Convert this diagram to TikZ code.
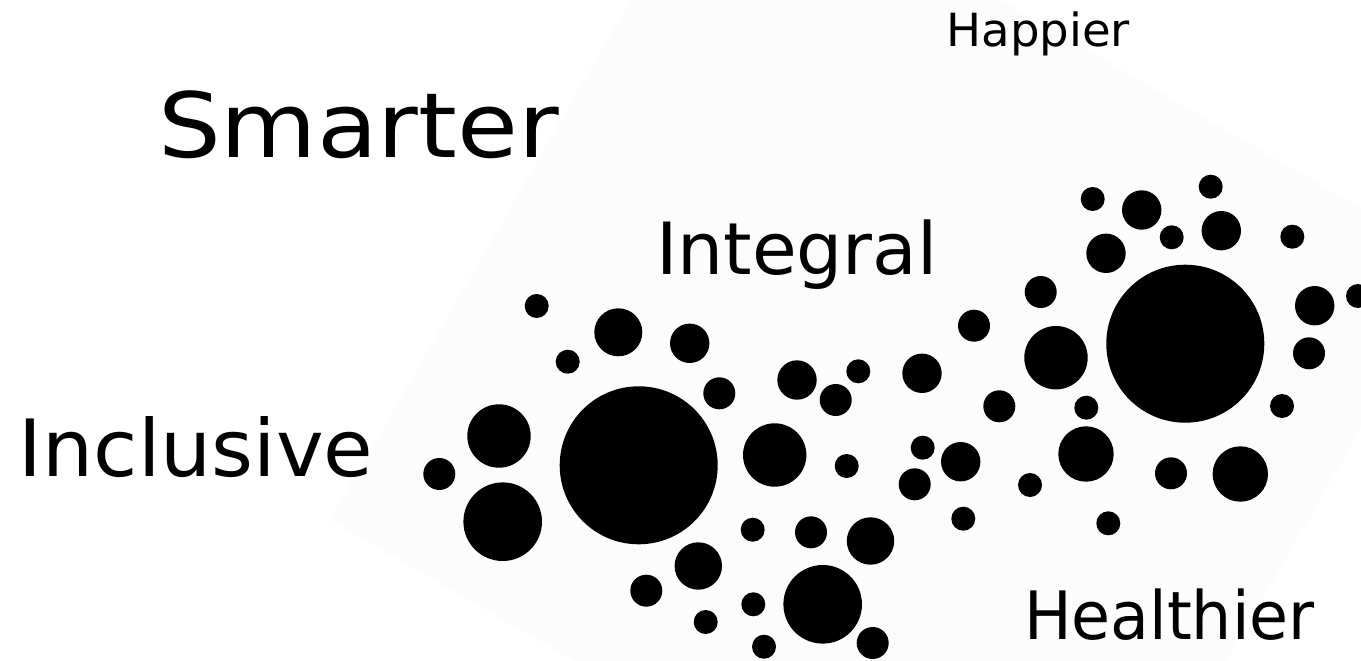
\documentclass[tikz,border=0pt]{standalone}
\usepackage{fontspec}
\setmainfont{DejaVu Sans}
\definecolor{bgshade}{RGB}{252,252,252}
\tikzset{
  dot/.style={fill=black},
  word/.style={anchor=base west, inner sep=0pt, outer sep=0pt, text=black}
}
\begin{document}
\begin{tikzpicture}[x=1pt,y=-1pt]
\useasboundingbox (0,0) rectangle (1361,661);
\begin{scope}
\clip (0,0) rectangle (1361,661);
\fill[bgshade] (330,520) -- (723,-160.5) -- (1456.7,263.2) -- (1063.8,943.6) -- cycle;
\end{scope}
% circles (x, y, r)
\foreach \x/\y/\r in {
 536.7/306/12, 618.3/332.3/24, 567.7/361.7/12, 689.7/343.3/19.7, 719.3/393.3/16,
 638.7/465.3/79, 499/436/31.7, 439.3/474/16, 502.7/521.7/39.3, 774.7/455/31.7,
 797/380/19.7, 835.7/400/16, 858.3/371.3/12, 846.7/466/12, 698.3/566/23.7,
 646.3/590.7/16, 752.7/529.7/12, 811/532.3/16, 870.5/541/23.7, 753.3/604.3/12,
 705.7/622/12, 822.7/604.3/39.3, 764/646.7/12, 872.7/643/16,
 1092.7/199/12, 1141.7/210/19.7, 1210.7/186.7/12, 1171.7/237.3/12, 1221.3/230.7/19.7,
 1292.3/236.7/12, 1106/253.3/19.7, 1185.3/343.7/79, 1314.7/305.7/19.7, 1358/296/12,
 1309/353.3/16, 1040.7/292/16, 974/325.7/16, 1056/357.7/31.7, 922/373.3/19.7,
 999.3/406.3/16, 1086.3/407.7/12, 1282/406/12, 922.7/447.7/12, 960.7/461.7/19.7,
 1086/454/27.7, 914.7/484.3/16, 1030/485/12, 1171/473.3/16, 1240.3/474/27.7,
 963.3/518.7/12, 1108.3/523.3/12}
 {\fill[dot] (\x,\y) circle[radius=\r];}
% words
\node[word, xscale=1.10] (smarter) at (158,157) {\fontsize{90}{100}\selectfont Smarter};
\node[word, xscale=1.02] (inclusive) at (19,476) {\fontsize{79}{90}\selectfont Inclusive};
\node[word, xscale=1.01] (integral) at (656,274) {\fontsize{72}{80}\selectfont Integral};
\node[word, xscale=0.95] (healthier) at (1024,639.3) {\fontsize{66.7}{75}\selectfont Healthier};
\node[word, xscale=1.02] (happier) at (946.5,46.7) {\fontsize{45.7}{52}\selectfont Happier};
\end{tikzpicture}
\end{document}
